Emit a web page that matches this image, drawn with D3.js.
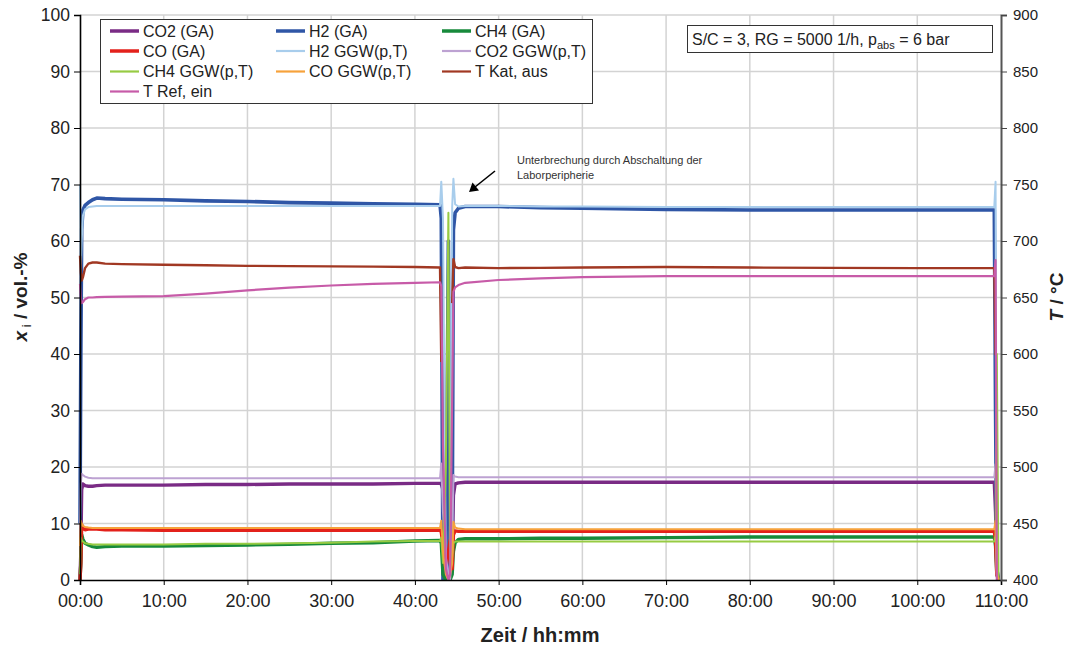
<!DOCTYPE html>
<html><head><meta charset="utf-8">
<script src="https://cdn.jsdelivr.net/npm/d3@7"></script>
<style>
body{margin:0;background:#fff;}
svg text{font-family:"Liberation Sans",Arial,Helvetica,sans-serif;}
</style>
</head><body>
<svg id="chart" width="1069" height="650"></svg>
<script>
// ---------- DATA (hours since start) ----------
const hours = [0, 0.1, 0.2, 0.35, 0.6, 1, 1.5, 2, 3, 5,
  10, 15, 20, 25, 30, 35, 40, 43.0, 43.15, 43.35,
  43.7, 44.0, 44.2, 44.45, 44.6, 44.8, 45.2, 46, 50, 55,
  60, 70, 80, 90, 100, 109.2, 109.35, 109.5, 109.7];

// gas analysis (vol.-%)
const co2GA = [0, 5, 16, 17, 16.7, 16.6, 16.6, 16.7, 16.8, 16.8,
  16.8, 16.9, 16.9, 17.0, 17.0, 17.0, 17.1, 17.1, 17, 16,
  4, 1, 0.5, 3, 15, 17, 17.2, 17.3, 17.3, 17.3,
  17.3, 17.3, 17.3, 17.3, 17.3, 17.3, 12, 2, 0];
const h2GA = [10, 40, 62, 65.5, 66.3, 66.8, 67.3, 67.6, 67.5, 67.4,
  67.3, 67.1, 67.0, 66.8, 66.7, 66.6, 66.5, 66.4, 64, 0,
  2, 60, 1, 5, 62, 65, 65.8, 66.1, 66.1, 65.9,
  65.8, 65.6, 65.5, 65.5, 65.5, 65.5, 30, 2, 0];
const ch4GA = [0, 3, 8, 7.2, 6.5, 6.2, 5.9, 5.8, 5.9, 6.0,
  6.0, 6.1, 6.2, 6.3, 6.5, 6.6, 6.9, 7.0, 6.5, 1,
  0, 0.5, 0, 1, 5, 6.6, 7.2, 7.3, 7.3, 7.4,
  7.4, 7.5, 7.6, 7.6, 7.6, 7.6, 6, 1, 0];
const coGA = [0, 3, 9.8, 9.2, 8.9, 9.0, 9.0, 9.0, 8.9, 8.9,
  8.8, 8.8, 8.8, 8.8, 8.8, 8.8, 8.8, 8.8, 8.5, 6,
  2, 5, 7, 2, 8, 8.7, 8.6, 8.6, 8.6, 8.6,
  8.6, 8.6, 8.6, 8.6, 8.6, 8.6, 7, 1, 0];
// equilibrium GGW(p,T) (vol.-%)
const h2GGW = [70, 55, 60, 64.5, 65.6, 66, 66.1, 66.2, 66.2, 66.2,
  66.2, 66.2, 66.2, 66.2, 66.2, 66.2, 66.2, 66.2, 70.5, 64,
  2, 0, 3, 66, 71, 66.5, 66.1, 66.2, 66.2, 66.1,
  66.1, 66.0, 66.0, 66.0, 66.0, 66.0, 70.5, 2, 0];
const co2GGW = [10, 17, 18.8, 18.6, 18.3, 18.1, 18.0, 18.0, 18.0, 18.0,
  18.0, 18.0, 18.0, 18.0, 18.0, 18.0, 18.0, 18.0, 20.6, 12,
  4, 1, 0, 5, 18.6, 18.3, 18.2, 18.2, 18.2, 18.2,
  18.2, 18.2, 18.2, 18.2, 18.2, 18.2, 20.5, 1, 0];
const ch4GGW = [1, 7.5, 7, 6.8, 6.5, 6.4, 6.3, 6.3, 6.3, 6.3,
  6.3, 6.4, 6.4, 6.5, 6.6, 6.8, 6.9, 6.9, 7.5, 3,
  20, 65, 2, 4, 6.5, 6.8, 6.8, 6.8, 6.8, 6.8,
  6.8, 6.8, 6.8, 6.8, 6.8, 6.8, 8, 40, 0];
const coGGW = [6, 10.5, 10, 9.6, 9.4, 9.3, 9.2, 9.2, 9.2, 9.2,
  9.2, 9.2, 9.2, 9.2, 9.2, 9.2, 9.2, 9.2, 10.5, 5,
  1, 0, 1, 3, 10.3, 9.3, 9.1, 9.0, 9.0, 9.0,
  9.0, 9.0, 9.0, 9.0, 9.0, 9.0, 10.5, 1, 0];
// temperatures (°C, right axis)
const tKatAus = [687, 672, 665, 668, 676, 680, 681, 681, 680, 679.5,
  679, 678.5, 678, 677.8, 677.5, 677.3, 677, 676.5, 593, null,
  null, null, null, 645, 684, 677, 676, 676.5, 676, 676.2,
  676.5, 677, 676.5, 676.2, 676, 676, 599, null, null];
const tRefEin = [662, 650, 645, 646, 648.5, 650, 650, 650.3, 650.5, 650.7,
  651.3, 653.5, 656.3, 658.7, 660.6, 662, 663, 663.5, 660, 520,
  410, 400, 405, 560, 655, 659, 661, 663, 665.5, 667,
  668, 669, 669, 669, 669, 669, 683, 400, null];

const seriesNames = ["CO2 (GA)", "H2 (GA)", "CH4 (GA)", "CO (GA)", "H2 GGW(p,T)",
  "CO2 GGW(p,T)", "CH4 GGW(p,T)", "CO GGW(p,T)", "T Kat, aus", "T Ref, ein"];

const xTickValues = [0,10,20,30,40,50,60,70,80,90,100,110];
const xTickLabels = ["00:00","10:00","20:00","30:00","40:00","50:00","60:00","70:00","80:00","90:00","100:00","110:00"];
const yTickValues = [0,10,20,30,40,50,60,70,80,90,100];
const tTickValues = [400,450,500,550,600,650,700,750,800,850,900];

// ---------- STYLE ----------
const series = [
  {vals: co2GA,  color: "#7a2b85", w: 3.4, axis: "y"},
  {vals: h2GA,   color: "#2f56a6", w: 3.6, axis: "y"},
  {vals: ch4GA,  color: "#178a3b", w: 3.4, axis: "y"},
  {vals: coGA,   color: "#e3211b", w: 3.4, axis: "y"},
  {vals: h2GGW,  color: "#a8cdec", w: 2,   axis: "y"},
  {vals: co2GGW, color: "#bda2d2", w: 2,   axis: "y"},
  {vals: ch4GGW, color: "#97cb43", w: 2,   axis: "y"},
  {vals: coGGW,  color: "#f6a23b", w: 2,   axis: "y"},
  {vals: tKatAus,color: "#a13823", w: 2.4, axis: "t"},
  {vals: tRefEin,color: "#c75ba8", w: 2.2, axis: "t"}
];
series.forEach((s,i)=> s.name = seriesNames[i]);

const svg = d3.select("#chart");
const L = 80, R = 1001, T = 15, B = 580;
const x = d3.scaleLinear().domain([0,110]).range([L,R]);
const y = d3.scaleLinear().domain([0,100]).range([B,T]);
const yT = d3.scaleLinear().domain([400,900]).range([B,T]);

svg.append("rect").attr("width",1069).attr("height",650).attr("fill","#fff");

// grid
const grid = svg.append("g");
grid.selectAll("line.h").data(yTickValues.filter(v=>v>0)).join("line")
  .attr("x1",L).attr("x2",R).attr("y1",d=>y(d)).attr("y2",d=>y(d))
  .attr("stroke","#d3d3d3").attr("stroke-width",1.5);
grid.selectAll("line.v").data(xTickValues.filter(v=>v>0 && v<110)).join("line")
  .attr("y1",T).attr("y2",B).attr("x1",d=>x(d)).attr("x2",d=>x(d))
  .attr("stroke","#d3d3d3").attr("stroke-width",1.5);

// clip
svg.append("clipPath").attr("id","clip").append("rect")
  .attr("x",L-2).attr("y",T).attr("width",R-L+4).attr("height",B-T+1);

const plot = svg.append("g").attr("clip-path","url(#clip)");
series.forEach(s=>{
  const sc = s.axis === "t" ? yT : y;
  const line = d3.line()
    .defined((d,i)=> s.vals[i] !== null)
    .x((d,i)=> x(hours[i]))
    .y((d,i)=> sc(s.vals[i]));
  plot.append("path").datum(s.vals).attr("d", line)
    .attr("fill","none").attr("stroke",s.color).attr("stroke-width",s.w)
    .attr("stroke-linejoin","round").attr("stroke-linecap","butt");
});

// axes
const ax = svg.append("g").attr("transform",`translate(0,${B})`)
  .call(d3.axisBottom(x).tickValues(xTickValues).tickFormat((d,i)=>xTickLabels[i]).tickSize(5).tickPadding(9));
ax.selectAll("text").attr("font-size",18).attr("fill","#222");
ax.selectAll("line").attr("stroke","#000");
ax.select(".domain").attr("stroke","#000").attr("stroke-width",1.6);

const ay = svg.append("g").attr("transform",`translate(${L},0)`)
  .call(d3.axisLeft(y).tickValues(yTickValues).tickSize(6).tickPadding(4));
ay.selectAll("text").attr("font-size",17.5).attr("fill","#222");
ay.selectAll("line").attr("stroke","#000");
ay.select(".domain").attr("stroke","#000").attr("stroke-width",1.6);

const ayr = svg.append("g").attr("transform",`translate(${R},0)`)
  .call(d3.axisRight(yT).tickValues(tTickValues).tickSize(6).tickPadding(6));
ayr.selectAll("text").attr("font-size",15).attr("fill","#222");
ayr.selectAll("line").attr("stroke","#444");
ayr.select(".domain").attr("stroke","#555").attr("stroke-width",2);

// axis titles
svg.append("text").attr("x",540).attr("y",642).attr("text-anchor","middle")
  .attr("font-size",20).attr("font-weight","bold").attr("fill","#222").text("Zeit / hh:mm");

const lt = svg.append("text").attr("transform","translate(27,297) rotate(-90)")
  .attr("text-anchor","middle").attr("font-size",19).attr("font-weight","bold").attr("fill","#222");
lt.append("tspan").attr("font-style","italic").text("x");
lt.append("tspan").attr("font-size",13).attr("dy",4).attr("font-weight","normal").text(" i");
lt.append("tspan").attr("dy",-4).text(" / vol.-%");

const rt = svg.append("text").attr("transform","translate(1063,297) rotate(-90)")
  .attr("text-anchor","middle").attr("font-size",19).attr("font-weight","bold").attr("fill","#222");
rt.append("tspan").attr("font-style","italic").text("T");
rt.append("tspan").text(" / °C");

// legend
const lg = svg.append("g");
lg.append("rect").attr("x",100.5).attr("y",19.5).attr("width",492).attr("height",84)
  .attr("fill","#fff").attr("stroke","#333").attr("stroke-width",1);
const colX = [110, 276, 442], rowY = [31, 51, 71.5, 91.5];
series.forEach((s,i)=>{
  const cx = colX[i%3], cy = rowY[Math.floor(i/3)];
  lg.append("line").attr("x1",cx).attr("x2",cx+29).attr("y1",cy).attr("y2",cy)
    .attr("stroke",s.color).attr("stroke-width", s.w>3 ? 3.5 : 2.2);
  lg.append("text").attr("x",cx+33).attr("y",cy+5.5).attr("font-size",16).attr("fill","#222").text(s.name);
});

// info box
svg.append("rect").attr("x",687.5).attr("y",25.5).attr("width",305).attr("height",27)
  .attr("fill","#fff").attr("stroke","#333").attr("stroke-width",1);
const it = svg.append("text").attr("x",692).attr("y",45).attr("font-size",16).attr("fill","#222");
it.append("tspan").text("S/C = 3, RG = 5000 1/h, p");
it.append("tspan").attr("font-size",11).attr("dy",4).text("abs");
it.append("tspan").attr("dy",-4).text(" = 6 bar");

// annotation
svg.append("text").attr("x",517).attr("y",164).attr("font-size",11).attr("fill","#333")
  .text("Unterbrechung durch Abschaltung der");
svg.append("text").attr("x",517).attr("y",179).attr("font-size",11).attr("fill","#333")
  .text("Laborperipherie");
svg.append("line").attr("x1",495).attr("y1",171).attr("x2",475).attr("y2",187)
  .attr("stroke","#000").attr("stroke-width",1.6);
svg.append("path").attr("d","M469,192 L472.5,182.5 L479,190.5 Z").attr("fill","#000");
</script>
</body></html>
